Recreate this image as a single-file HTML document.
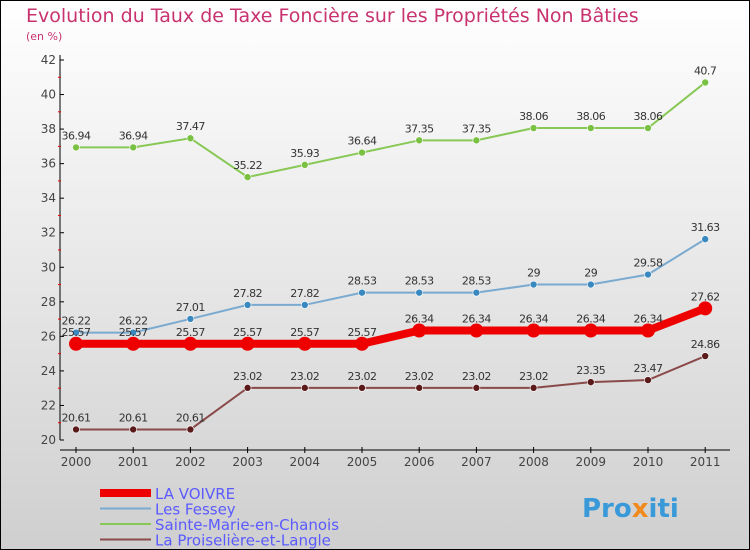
<!DOCTYPE html>
<html><head><meta charset="utf-8"><style>
body{margin:0}
#c{width:750px;height:550px;position:relative;box-sizing:border-box;border:1px solid #000;background:linear-gradient(#ffffff,#cfcfcf);overflow:hidden;font-family:"DejaVu Sans","Liberation Sans",sans-serif}
</style></head><body>
<div id="c">
<svg id="s" width="750" height="550" style="position:absolute;left:-1px;top:-1px">
<text x="26" y="22" font-size="19" fill="#c8326e">Evolution du Taux de Taxe Foncière sur les Propriétés Non Bâties</text>
<text x="26" y="40" font-size="11" fill="#c8326e">(en %)</text>
<g id="ax"></g><g id="ser"></g><g id="leg"></g>
<text x="582" y="517" font-size="26" font-weight="bold" fill="#3a9ad9">Pro<tspan fill="#f08a1c">x</tspan>iti</text>
</svg></div>
<script>
const years=["2000","2001","2002","2003","2004","2005","2006","2007","2008","2009","2010","2011"];
const yTicks=[20,22,24,26,28,30,32,34,36,38,40,42];
const voivre=[25.57,25.57,25.57,25.57,25.57,25.57,26.34,26.34,26.34,26.34,26.34,27.62];
const fessey=[26.22,26.22,27.01,27.82,27.82,28.53,28.53,28.53,29,29,29.58,31.63];
const sainte=[36.94,36.94,37.47,35.22,35.93,36.64,37.35,37.35,38.06,38.06,38.06,40.7];
const proise=[20.61,20.61,20.61,23.02,23.02,23.02,23.02,23.02,23.02,23.35,23.47,24.86];
const NS="http://www.w3.org/2000/svg";
const X=i=>76+i*57.2, Y=v=>440-(v-20)*380/22;
function mk(t,a,p){const e=document.createElementNS(NS,t);for(const k in a)e.setAttribute(k,a[k]);p.appendChild(e);return e;}
const ax=document.getElementById('ax');
let e=mk('line',{x1:60,y1:55,x2:60,y2:440,stroke:'#000'},ax);

e=mk('line',{x1:60,y1:450,x2:730,y2:450,stroke:'#000'},ax);

yTicks.forEach(v=>{mk('line',{x1:60,y1:Y(v),x2:64,y2:Y(v),stroke:'#000'},ax);
 if(v<42)mk('line',{x1:58,y1:Y(v+1),x2:61,y2:Y(v+1),stroke:'#e00'},ax);
 const t=mk('text',{x:56,y:Y(v)+4,'font-size':12,'text-anchor':'end',fill:'#444'},ax);t.textContent=v;
 });
years.forEach((y,i)=>{mk('line',{x1:X(i),y1:447,x2:X(i),y2:453,stroke:'#000'},ax);
 const t=mk('text',{x:X(i),y:466,'font-size':12,'text-anchor':'middle',fill:'#444'},ax);t.textContent=y;
 });
const ser=document.getElementById('ser');
const S=[[sainte,'#88c855','#7ac143',2,3.5,'sainte-marie'],[proise,'#8a4a4a','#5a1a1a',2,3.5,'la-proiseliere'],[fessey,'#7aaad0','#3a88c0',2,3.5,'les-fessey'],[voivre,'#ee0000','#ee0000',8,7,'la-voivre']];
S.forEach(([d,lc,pc,w,r,n])=>{const g=mk('g',{},ser);
 
 const p=mk('polyline',{points:d.map((v,i)=>X(i)+','+Y(v)).join(' '),fill:'none',stroke:lc,'stroke-width':w},g);
 
 d.forEach((v,i)=>{const c=mk('circle',{cx:X(i),cy:Y(v),r:r,fill:pc,stroke:w>4?'none':'#fff','stroke-width':0.6},g);
  
  const t=mk('text',{x:X(i),y:Y(v)-8,'font-size':11,'text-anchor':'middle',fill:'#333','letter-spacing':'-0.5'},g);t.textContent=v;
  });});
const leg=document.getElementById('leg');
[['LA VOIVRE','#ee0000',8],['Les Fessey','#7aaad0',2],['Sainte-Marie-en-Chanois','#88c855',2],['La Proiselière-et-Langle','#8a4a4a',2]].forEach(([n,c,w],i)=>{
 const y=493+i*15.5;const g=mk('g',{},leg);
 
 mk('line',{x1:100,y1:y,x2:151,y2:y,stroke:c,'stroke-width':w},g);
 const t=mk('text',{x:155,y:y+6,'font-size':15,fill:'#5a5aff'},g);t.textContent=n;});
</script>
</body></html>
